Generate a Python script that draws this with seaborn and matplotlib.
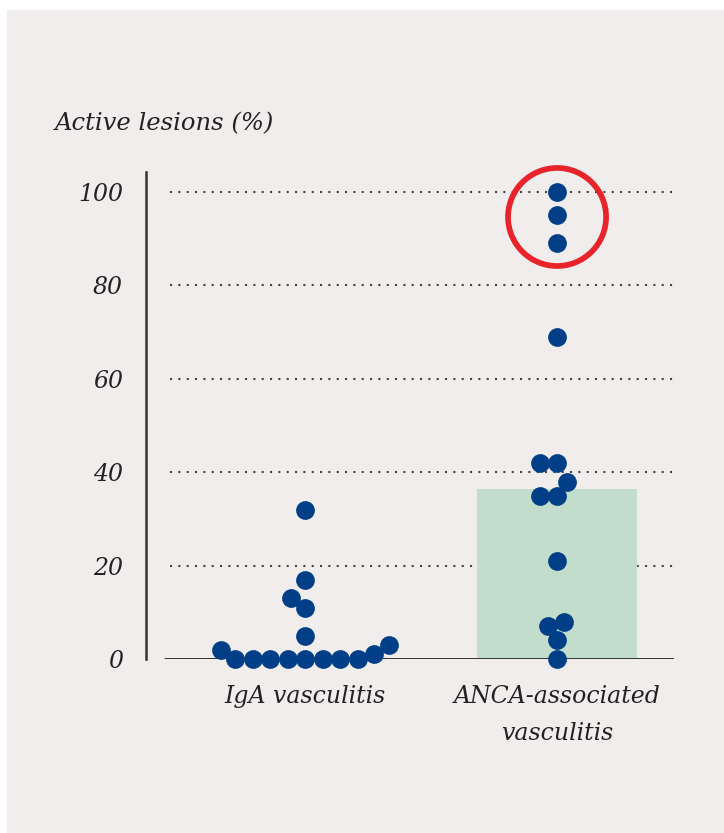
import numpy as np
import pandas as pd
import seaborn as sns
import matplotlib.pyplot as plt
from matplotlib.patches import Rectangle

# Data
groups = ["IgA vasculitis", "ANCA-associated\nvasculitis"]
iga_values = [32, 17, 13, 11, 5, 3, 2, 1, 0, 0, 0, 0, 0, 0, 0, 0]
anca_values = [100, 95, 89, 69, 42, 42, 38, 35, 35, 21, 8, 7, 4, 0]
y_ticks = [0, 20, 40, 60, 80, 100]
highlighted = anca_values[:3]

df = pd.DataFrame({
    "group": [groups[0]] * len(iga_values) + [groups[1]] * len(anca_values),
    "value": iga_values + anca_values,
})

bg = "#f0edec"
dot_color = "#003f88"
bar_color = "#c3ddcd"
ink = "#222222"

sns.set_style("white")
plt.rcParams["font.family"] = ["DejaVu Serif"]
plt.rcParams["font.style"] = "italic"

W, H = 724, 833
fig = plt.figure(figsize=(W / 100, H / 100), dpi=100, facecolor="white")
fig.add_artist(Rectangle((7 / W, 0), 1, 1 - 10 / H, transform=fig.transFigure,
                         color=bg, zorder=-1))

ax = fig.add_axes([146 / W, 1 - 659 / H, 528 / W, 487 / H])
ax.set_facecolor("none")

# median bar behind the dots
sns.barplot(data=df, x="group", y="value", order=groups, estimator="median",
            errorbar=None, color=bar_color, saturation=1, width=0.635,
            linewidth=0, edgecolor="none", ax=ax, zorder=1)
sns.swarmplot(data=df, x="group", y="value", order=groups, color=dot_color,
              size=12, linewidth=0, ax=ax, zorder=4)

# dotted gridlines and baseline
for t in y_ticks[1:]:
    ax.axhline(t, xmin=24 / 528, xmax=1.0, color="#444444", lw=1.5,
               ls=(0, (1, 3)), zorder=0.5)
ax.axhline(0, xmin=19 / 528, xmax=1.0, color=ink, lw=2.0, zorder=2)

ax.set_xlim(-0.631, 1.464)
ax.set_ylim(0, 104.3)
ax.set_yticks(y_ticks)
ax.set_xlabel("")
ax.set_ylabel("")
sns.despine(ax=ax, bottom=True)
ax.spines["left"].set_color("#333333")
ax.spines["left"].set_linewidth(1.8)
ax.tick_params(axis="y", length=0, pad=16.5, labelsize=17, labelcolor=ink)
ax.tick_params(axis="x", length=0, pad=19, labelsize=17, labelcolor=ink)
for lab in ax.get_xticklabels():
    lab.set_linespacing(1.75)

fig.text(55 / W, 1 - 130 / H, "Active lesions (%)", fontsize=17.5, color=ink,
         ha="left", va="baseline")

# lay out the swarm once, then freeze positions and enlarge the dots
fig.canvas.draw()
for coll in ax.collections:
    if "draw" in vars(coll):
        del coll.draw
        coll.set_sizes([13.5 ** 2])
        coll.set_clip_on(False)

# red ring around the three highest ANCA values
ax.scatter([1], [np.mean(highlighted)], s=70.6 ** 2, facecolors="none",
           edgecolors="#e8232a", linewidths=4.1, zorder=5, clip_on=False)

fig.savefig("out.png", dpi=100, facecolor="white")
